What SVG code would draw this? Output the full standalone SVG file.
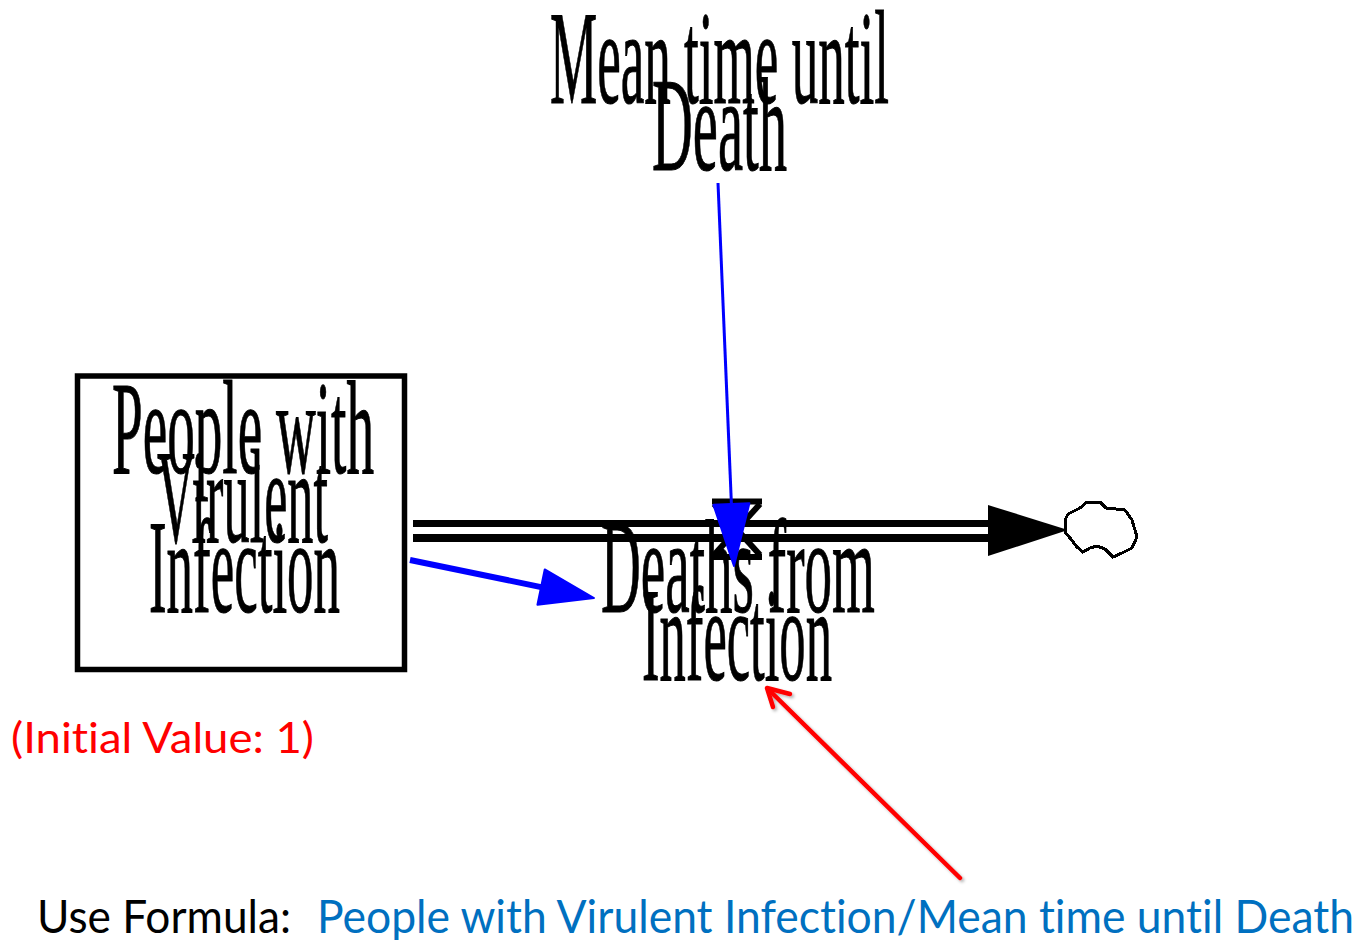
<svg xmlns="http://www.w3.org/2000/svg" width="1363" height="940" viewBox="0 0 1363 940">
  <style>
    .lbl { font-family: "Liberation Serif", "Times New Roman", serif; font-size: 134px; fill: #000; stroke: #000; stroke-width: 1; }
    .note { font-family: Lato, "Noto Sans", sans-serif; font-variant-ligatures: none; }
    .pipe { stroke: #000; fill: none; }
    .blue { stroke: #0000ff; fill: none; }
  </style>
  <defs>
    <marker id="head-blue-long" markerUnits="userSpaceOnUse" markerWidth="70" markerHeight="44" refX="0" refY="22" orient="auto" overflow="visible">
      <path d="M0,4 L62,22 L0,40 Z" fill="#0000ff" stroke="#0000ff" stroke-width="2" stroke-linejoin="round"/>
    </marker>
    <marker id="head-blue" markerUnits="userSpaceOnUse" markerWidth="64" markerHeight="44" refX="0" refY="22" orient="auto" overflow="visible">
      <path d="M0,4 L54,22 L0,40 Z" fill="#0000ff" stroke="#0000ff" stroke-width="2" stroke-linejoin="round"/>
    </marker>
    <filter id="soft-shadow" x="-10%" y="-10%" width="130%" height="130%">
      <feDropShadow dx="2" dy="2" stdDeviation="1.5" flood-color="#000" flood-opacity="0.3"/>
    </filter>
  </defs>

  <rect width="1363" height="940" fill="#fff"/>

  <!-- stock -->
  <g id="people-with-virulent-infection">
    <rect x="77.5" y="376" width="327" height="293.5" fill="#fff" stroke="#000" stroke-width="5.5"/>
    <text class="lbl" x="112" y="473" textLength="262" lengthAdjust="spacingAndGlyphs">People with</text>
    <text class="lbl" x="157" y="542" textLength="171" lengthAdjust="spacingAndGlyphs">Virulent</text>
    <text class="lbl" x="149" y="612" textLength="191" lengthAdjust="spacingAndGlyphs">Infection</text>
  </g>

  <!-- flow: pipe, valve and outflow arrow -->
  <g id="deaths-from-infection">
    <line class="pipe" x1="413" y1="523.5" x2="992" y2="523.5" stroke-width="7"/>
    <line class="pipe" x1="413" y1="538" x2="992" y2="538" stroke-width="8"/>
    <polygon points="988,505 1068,530 988,556" fill="#000"/>
    <g class="pipe" stroke-width="6">
      <line x1="712" y1="501.5" x2="762" y2="501.5"/>
      <line x1="712" y1="557" x2="762" y2="557"/>
      <line x1="760" y1="504" x2="714" y2="555"/>
      <line x1="714" y1="504" x2="760" y2="555"/>
    </g>
    <text class="lbl" x="601" y="612" textLength="274" lengthAdjust="spacingAndGlyphs">Deaths from</text>
    <text class="lbl" x="642" y="680" textLength="190" lengthAdjust="spacingAndGlyphs">Infection</text>
  </g>

  <!-- sink cloud -->
  <g id="sink-cloud">
    <path d="M1065,520 L1068,514 L1080,508 L1087,502 L1100,502 L1106,508 L1125,510 L1132,520 L1137,537 L1132,548 L1122,553 L1113,557 L1105,549 L1097,546 L1090,548 L1083,552 L1077,547 L1070,538 L1065,532 Z" fill="#fff" stroke="#000" stroke-width="3" stroke-linejoin="miter" shape-rendering="crispEdges"/>
  </g>

  <!-- auxiliary -->
  <g id="mean-time-until-death">
    <text class="lbl" x="550" y="103" textLength="339" lengthAdjust="spacingAndGlyphs">Mean time until</text>
    <text class="lbl" x="652" y="170" textLength="135" lengthAdjust="spacingAndGlyphs">Death</text>
  </g>

  <!-- information links -->
  <g id="connectors">
    <path class="blue" d="M718,183 L731.4,504.1" stroke-width="3" marker-end="url(#head-blue-long)"/>
    <path class="blue" d="M410,560 L541.1,587.1" stroke-width="6" marker-end="url(#head-blue)"/>
    <g filter="url(#soft-shadow)" stroke="#ff0000" stroke-width="4.5" stroke-linecap="round" stroke-linejoin="round" fill="none">
      <line x1="960" y1="878" x2="769" y2="690"/>
      <polyline points="790,694 767,688 773,707"/>
    </g>
  </g>

  <!-- annotations -->
  <g id="annotations">
    <text class="note" x="11" y="753" font-size="43" fill="#ff0000" textLength="303" lengthAdjust="spacingAndGlyphs">(Initial Value: 1)</text>
    <text class="note" x="37" y="933" font-size="46" fill="#000" textLength="254" lengthAdjust="spacingAndGlyphs">Use Formula:</text>
    <text class="note" x="317" y="933" font-size="46" fill="#0070c0" textLength="1037" lengthAdjust="spacingAndGlyphs">People with Virulent Infection/Mean time until Death</text>
  </g>
</svg>
